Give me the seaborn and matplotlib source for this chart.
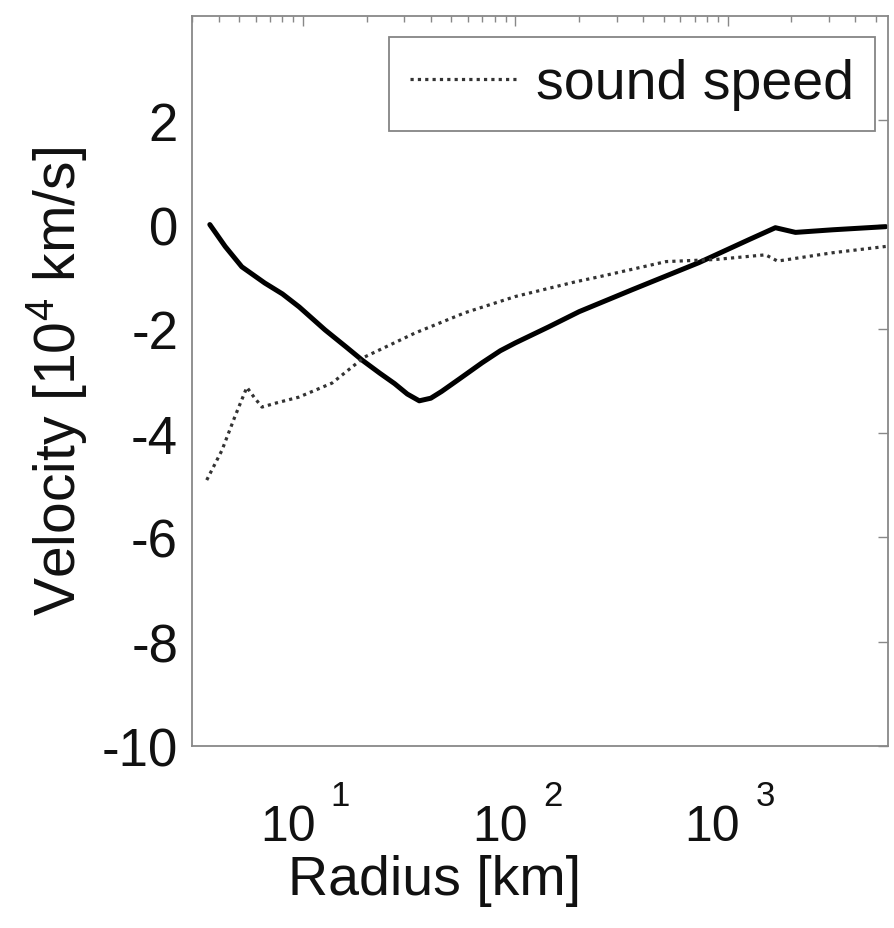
import numpy as np
import pandas as pd
import matplotlib
matplotlib.use("Agg")
import matplotlib.pyplot as plt
from matplotlib.transforms import ScaledTranslation
import seaborn as sns
from matplotlib.ticker import LogLocator, NullFormatter, FixedLocator

# Velocity profile (solid)
vel_r = [3.64, 4.3, 5.15, 6.6, 8.0, 9.6, 12.7, 16, 19, 23, 27, 31, 35.3, 40, 45, 55, 69.8, 85, 100, 144, 200, 355, 733, 1260, 1680, 2090, 3130, 5560]
vel_v = [0.0, -0.42, -0.81, -1.12, -1.33, -1.58, -2.02, -2.35, -2.6, -2.85, -3.05, -3.25, -3.38, -3.33, -3.2, -2.95, -2.65, -2.42, -2.27, -1.96, -1.67, -1.25, -0.73, -0.29, -0.06, -0.15, -0.10, -0.04]

# Sound speed (dotted)
snd_r = [3.52, 4.15, 4.77, 5.44, 5.88, 6.41, 7.5, 9.55, 13.7, 19.5, 33.7, 58, 100, 191, 249, 513, 877, 1510, 1720, 3130, 5560]
snd_v = [-4.90, -4.33, -3.69, -3.12, -3.31, -3.50, -3.42, -3.31, -3.04, -2.54, -2.08, -1.69, -1.38, -1.10, -1.0, -0.71, -0.67, -0.58, -0.70, -0.54, -0.42]

legend_label = "sound speed"
xlabel = "Radius [km]"
ylabel = "Velocity [10$^4$ km/s]"
yticks = [-10, -8, -6, -4, -2, 0, 2]
xticks = [10, 100, 1000]
xtick_base = ["10", "10", "10"]
xtick_exp = ["1", "2", "3"]

sns.set_style("white")
plt.rcParams['font.family'] = ['Liberation Sans', 'DejaVu Sans']
plt.rcParams['mathtext.default'] = 'regular'

fig = plt.figure(figsize=(8.94, 9.29), dpi=100)
ax = fig.add_axes([192/894, 1-747/929, (888-192)/894, (747-17)/929])

df_v = pd.DataFrame({"r": vel_r, "v": vel_v})
df_s = pd.DataFrame({"r": snd_r, "v": snd_v})
sns.lineplot(data=df_v, x="r", y="v", ax=ax, color="black", linewidth=3.6, label="_nolegend_")
sns.lineplot(data=df_s, x="r", y="v", ax=ax, color="#333333", linewidth=2.3, linestyle=(0, (1, 1.3)), label=legend_label)

ax.set_xscale("log")
ax.set_xlim(3, 5700)
ax.set_ylim(-10, 4)
ax.set_yticks(yticks)
ax.set_yticklabels([str(t) for t in yticks])
ax.xaxis.set_major_locator(FixedLocator(xticks))
ax.set_xticklabels(xtick_base)
ax.xaxis.set_minor_locator(LogLocator(base=10, subs=np.arange(2, 10)))
ax.xaxis.set_minor_formatter(NullFormatter())

for s in ax.spines.values():
    s.set_color("#888888")
    s.set_linewidth(1.3)
ax.tick_params(axis="both", which="both", direction="in", top=True, right=True,
               colors="#888888", labelcolor="#111111")
ax.tick_params(axis="y", labelsize=38, pad=10)
ax.tick_params(axis="x", labelsize=36, pad=42)
ax.tick_params(which="major", length=7, width=1)
ax.tick_params(which="minor", length=4, width=1)

# shift "10" left of tick, exponent raised to the right (MATLAB style)
shift = ScaledTranslation(-15/100, 0, fig.dpi_scale_trans)
for lab in ax.get_xticklabels():
    lab.set_transform(lab.get_transform() + shift)
for t, e in zip(xticks, xtick_exp):
    ax.annotate(e, xy=(t, 0), xycoords=("data", "axes fraction"),
                xytext=(20, -24), textcoords="offset points",
                ha="left", va="top", fontsize=25, color="#111111")

ax.set_xlabel(xlabel, fontsize=40, color="#111111")
ax.xaxis.set_label_coords(0.348, -0.148)
ax.set_ylabel(ylabel, fontsize=41, color="#111111")
ax.yaxis.set_label_coords(-0.148, 0.50)

leg = ax.legend(loc="upper right", bbox_to_anchor=(1 - 13/696, 1 - 21/730), fontsize=40,
                frameon=True, fancybox=False, handlelength=1.9,
                borderaxespad=0.0, borderpad=0.38, handletextpad=0.36)
leg.get_frame().set_edgecolor("#666666")
leg.get_frame().set_linewidth(1.3)
for t in leg.get_texts():
    t.set_color("#111111")

fig.savefig("out.png", dpi=100)
